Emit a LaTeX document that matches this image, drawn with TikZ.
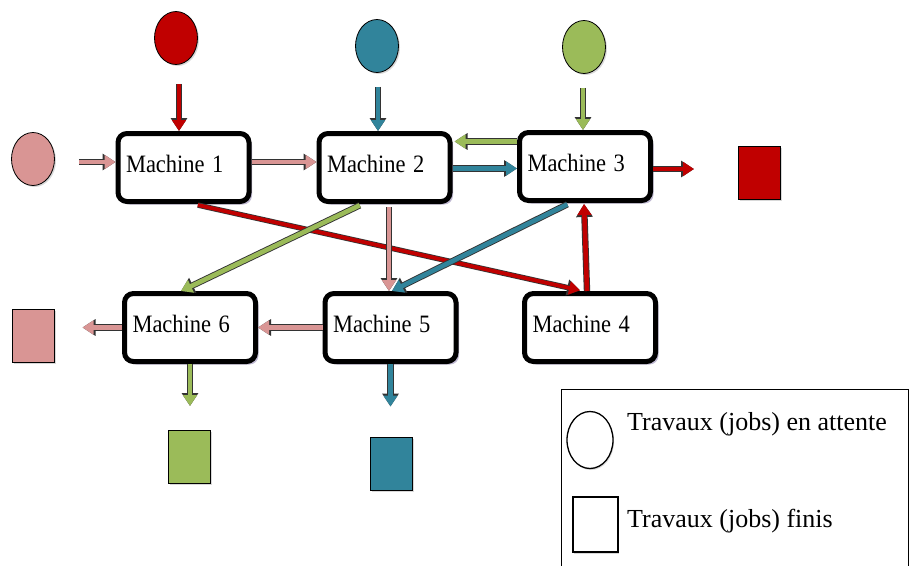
\documentclass[tikz,border=0pt]{standalone}
\usepackage{fontspec}
\setmainfont{Liberation Serif}
\usetikzlibrary{shapes.geometric,arrows.meta,shadows}

\definecolor{jobred}{RGB}{192,0,0}
\definecolor{jobteal}{RGB}{49,132,155}
\definecolor{jobgreen}{RGB}{155,187,89}
\definecolor{jobpink}{RGB}{217,149,148}
\definecolor{boxshade}{RGB}{165,155,190}

\newcommand\machinelabel[1]{\scalebox{0.9}[1]{Machine #1}}

\begin{document}
\begin{tikzpicture}[x=1pt,y=-1pt,
  machine/.style={draw=black, line width=5pt, rounded corners=9pt, fill=white,
    minimum width=131pt, minimum height=68pt, text width=115pt, inner xsep=8pt,
    align=left, text depth=7pt, font=\fontsize{25}{28}\selectfont,
    drop shadow={shadow xshift=3pt, shadow yshift=-3pt, fill=boxshade, opacity=0.7}},
  jobwait/.style={ellipse, draw=black, line width=0.8pt, fill=#1,
    minimum width=43pt, minimum height=53pt, inner sep=0pt,
    drop shadow={shadow xshift=1.5pt, shadow yshift=-1.5pt, fill=black!30, opacity=0.5}},
  jobdone/.style={rectangle, draw=black, line width=1pt, fill=#1,
    minimum width=42pt, minimum height=53pt, inner sep=0pt,
    drop shadow={shadow xshift=1.5pt, shadow yshift=-1.5pt, fill=black!30, opacity=0.5}},
  flow/.style={draw=#1, line width=4.6pt, -{Triangle[width=13.5pt,length=11pt]},
    preaction={draw=black!80, line width=6.4pt, -{Triangle[width=16pt,length=13pt]}}},
  thinflow/.style={draw=#1, line width=3.8pt, -{Triangle[width=13pt,length=11pt]},
    preaction={draw=black!80, line width=5.4pt, -{Triangle[width=15.5pt,length=13pt]}}},
  legendtext/.style={anchor=west, inner sep=0pt, font=\fontsize{26}{30}\selectfont}
]
% page
\path[use as bounding box, fill=white] (0,0) rectangle (910,565);

% waiting jobs
\node[jobwait=jobred]   (jr) at (176,38) {};
\node[jobwait=jobteal]  (jt) at (377,46) {};
\node[jobwait=jobgreen] (jg) at (584,47) {};
\node[jobwait=jobpink]  (jp) at (33,159) {};

% finished jobs
\node[jobdone=jobred]   (rs) at (759.5,172.5) {};
\node[jobdone=jobpink]  (ps) at (33,335.5) {};
\node[jobdone=jobgreen] (gs) at (189,457) {};
\node[jobdone=jobteal]  (ts) at (391,463.5) {};

% machines
\node[machine] (m1) at (183.5,167.5) {\machinelabel{1}};
\node[machine] (m2) at (384.5,167.5) {\machinelabel{2}};
\node[machine] (m3) at (585,166.5)   {\machinelabel{3}};
\node[machine] (m6) at (190,327.5)   {\machinelabel{6}};
\node[machine] (m5) at (390.5,327.5) {\machinelabel{5}};
\node[machine] (m4) at (590,327.5)   {\machinelabel{4}};

% incoming jobs
\draw[flow=jobred, shorten <=19pt] ([xshift=3pt]jr.south) -- ([xshift=3pt]jr.south |- m1.north);
\draw[flow=jobteal, shorten <=14pt] ([xshift=1pt]jt.south) -- ([xshift=1pt]jt.south |- m2.north);
\draw[flow=jobgreen, shorten <=14pt] ([xshift=-1pt]jg.south) -- ([xshift=-1pt]jg.south |- m3.north);
\draw[flow=jobpink, shorten <=24pt] ([yshift=-3pt]jp.east) -- ([yshift=-3pt]jp.east -| m1.west);

% routes between machines
\draw[flow=jobpink] ([yshift=5.5pt]m1.east) -- ([yshift=5.5pt]m1.east -| m2.west);
\draw[flow=jobgreen, shorten >=2pt] ([yshift=25pt]m3.west) -- ([yshift=25pt]m3.west -| m2.east);
\draw[flow=jobteal] ([yshift=-1pt]m2.east) -- ([yshift=-1pt]m2.east -| m3.west);
\draw[thinflow=jobred, shorten <=5pt, shorten >=3pt] ([xshift=9.5pt]m1.south) -- ([xshift=-7pt]m4.north);
\draw[flow=jobred, shorten >=1pt] ([xshift=-3pt]m4.north) -- ([xshift=-1pt]m3.south);
\draw[flow=jobgreen, shorten <=3pt] ([xshift=-22pt]m2.south) -- ([xshift=-9pt]m6.north);
\draw[flow=jobpink, shorten <=3pt] ([xshift=4.5pt]m2.south) -- ([xshift=4.5pt]m2.south |- m5.north);
\draw[flow=jobteal, shorten <=3pt] ([xshift=-15pt]m3.south) -- ([xshift=1.5pt]m5.north);
\draw[flow=jobpink] (m5.west) -- (m6.east);

% finished jobs leaving
\draw[flow=jobred, shorten >=44pt] ([yshift=-2.5pt]m3.east) -- ([yshift=-2.5pt]m3.east -| rs.west);
\draw[flow=jobpink, shorten >=28pt] (m6.west) -- (m6.west -| ps.east);
\draw[flow=jobgreen, shorten >=24pt] (m6.south) -- (m6.south |- gs.north);
\draw[flow=jobteal, shorten >=30pt] (m5.south) -- (m5.south |- ts.north);

% legend
\node[draw=black, line width=1.3pt, anchor=north west, minimum width=347pt,
      minimum height=190pt, inner sep=0pt] (legend) at (561,389) {};
\node[ellipse, draw=black, line width=1.3pt, fill=white, minimum width=46pt,
      minimum height=57pt, inner sep=0pt,
      drop shadow={shadow xshift=1pt, shadow yshift=-1.5pt, fill=black!25, opacity=0.6}]
      (lw) at (590,440) {};
\node[legendtext] (lwt) at (627,424) {Travaux (jobs) en attente};
\node[rectangle, draw=black, line width=1.2pt, fill=white, minimum width=45pt,
      minimum height=55pt, inner sep=0pt,
      drop shadow={shadow xshift=1pt, shadow yshift=-2pt, fill=black!25, opacity=0.6}]
      (ld) at (595.5,524.5) {};
\node[legendtext] (ldt) at (627,521) {Travaux (jobs) finis};
\end{tikzpicture}
\end{document}
